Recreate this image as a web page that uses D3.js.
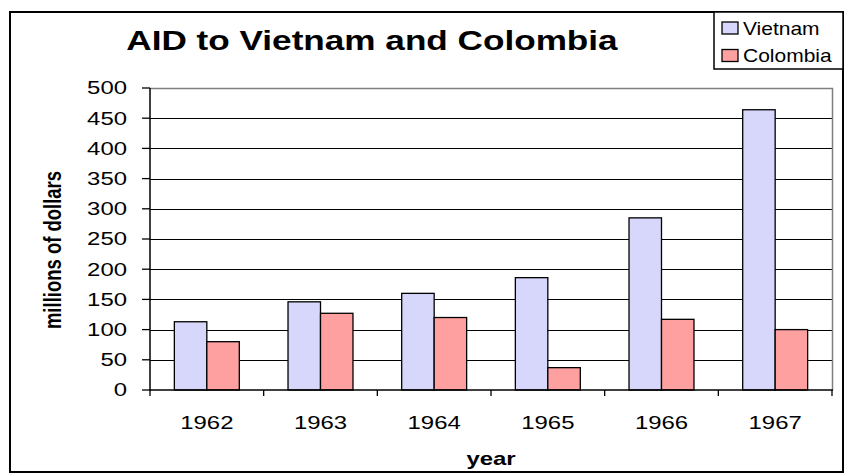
<!DOCTYPE html>
<html>
<head>
<meta charset="utf-8">
<script src="https://cdn.jsdelivr.net/npm/d3@7"></script>
<style>
  html, body { margin: 0; padding: 0; background: #fff; }
  text { font-family: "Liberation Sans", Arial, sans-serif; fill: #000; }
</style>
</head>
<body>
<svg id="chart" width="844" height="473"></svg>
<script>
const years = ["1962", "1963", "1964", "1965", "1966", "1967"];
const seriesNames = ["Vietnam", "Colombia"];
const vietnam = [113, 146, 160, 186, 285, 464];
const colombia = [80, 127, 120, 37, 117, 100];
const yTicks = [0, 50, 100, 150, 200, 250, 300, 350, 400, 450, 500];
const colors = ["#d7d7fb", "#ffa0a0"];

const svg = d3.select("#chart");
const SX = 1.33; // horizontal stretch of the original rendering

const plot = { left: 150, right: 832, top: 88, bottom: 390 };

// outer border
svg.append("rect").attr("x", 10).attr("y", 12).attr("width", 833).attr("height", 460)
  .attr("fill", "#fff").attr("stroke", "#000").attr("stroke-width", 2);

const x0 = d3.scaleBand().domain(years).range([plot.left, plot.right]).padding(0);
const x1 = d3.scaleBand().domain(seriesNames).range([0, x0.bandwidth()])
  .paddingInner(0).paddingOuter(0.75);
const y = d3.scaleLinear().domain([0, 500]).range([plot.bottom, plot.top]);

// gridlines
svg.append("g").selectAll("line").data(yTicks.filter(d => d > 0 && d < 500)).join("line")
  .attr("x1", plot.left).attr("x2", plot.right)
  .attr("y1", d => Math.round(y(d)) + 0.5).attr("y2", d => Math.round(y(d)) + 0.5)
  .attr("stroke", "#000").attr("stroke-width", 1);

// plot border top/right (gray)
svg.append("path")
  .attr("d", `M${plot.left},${plot.top + 0.5}H${plot.right + 0.5}V${plot.bottom}`)
  .attr("fill", "none").attr("stroke", "#808080").attr("stroke-width", 1.5);

// bars
const data = years.map((yr, i) => ({ year: yr, values: [vietnam[i], colombia[i]] }));
const groups = svg.append("g").selectAll("g").data(data).join("g")
  .attr("transform", d => `translate(${x0(d.year)},0)`);
groups.selectAll("rect").data(d => d.values.map((v, j) => ({ key: seriesNames[j], v, j }))).join("rect")
  .attr("x", d => x1(d.key))
  .attr("width", x1.bandwidth())
  .attr("y", d => y(d.v))
  .attr("height", d => y(0) - y(d.v))
  .attr("fill", d => colors[d.j])
  .attr("stroke", "#000").attr("stroke-width", 1.3);

// axes lines
svg.append("line").attr("x1", plot.left).attr("x2", plot.left)
  .attr("y1", plot.top).attr("y2", plot.bottom + 1)
  .attr("stroke", "#000").attr("stroke-width", 1.5);
svg.append("line").attr("x1", plot.left).attr("x2", plot.right + 1)
  .attr("y1", plot.bottom).attr("y2", plot.bottom)
  .attr("stroke", "#000").attr("stroke-width", 1.5);

// y ticks + labels
const yg = svg.append("g");
yg.selectAll("line").data(yTicks).join("line")
  .attr("x1", plot.left - 8).attr("x2", plot.left)
  .attr("y1", d => y(d)).attr("y2", d => y(d))
  .attr("stroke", "#000").attr("stroke-width", 1.3);
yg.selectAll("text").data(yTicks).join("text")
  .attr("transform", d => `translate(127,${y(d)}) scale(${SX},1)`)
  .attr("text-anchor", "end").attr("dy", "0.35em")
  .attr("font-size", 18).text(d => d);

// x ticks at category boundaries + labels
const boundaries = years.map(yr => x0(yr)).concat([plot.right]);
svg.append("g").selectAll("line").data(boundaries).join("line")
  .attr("x1", d => d).attr("x2", d => d)
  .attr("y1", plot.bottom).attr("y2", plot.bottom + 6)
  .attr("stroke", "#000").attr("stroke-width", 1.3);
svg.append("g").selectAll("text").data(years).join("text")
  .attr("transform", d => `translate(${x0(d) + x0.bandwidth() / 2},429) scale(${SX},1)`)
  .attr("text-anchor", "middle").attr("font-size", 18).text(d => d);

// axis titles
svg.append("text")
  .attr("transform", `translate(${(plot.left + plot.right) / 2},465) scale(${SX},1)`)
  .attr("text-anchor", "middle").attr("font-size", 18).attr("font-weight", "bold").text("year");
svg.append("text")
  .attr("transform", `translate(61,250) scale(${SX},1) rotate(-90)`)
  .attr("text-anchor", "middle").attr("font-size", 18.5).attr("font-weight", "bold")
  .text("millions of dollars");

// title
svg.append("text")
  .attr("transform", `translate(372,50) scale(1.255,1)`)
  .attr("text-anchor", "middle").attr("font-size", 28).attr("font-weight", "bold")
  .text("AID to Vietnam and Colombia");

// legend
const lg = svg.append("g");
lg.append("rect").attr("x", 714).attr("y", 12).attr("width", 129).attr("height", 57)
  .attr("fill", "#fff").attr("stroke", "#000").attr("stroke-width", 1.5);
const items = lg.selectAll("g").data(seriesNames).join("g")
  .attr("transform", (d, i) => `translate(0,${i * 27.5})`);
items.append("rect").attr("x", 722).attr("y", 22).attr("width", 16).attr("height", 12)
  .attr("fill", (d, i) => colors[i]).attr("stroke", "#000").attr("stroke-width", 1.3);
items.append("text")
  .attr("transform", "translate(743,34.5) scale(1.2,1)")
  .attr("font-size", 17.5).text(d => d);
</script>
</body>
</html>
